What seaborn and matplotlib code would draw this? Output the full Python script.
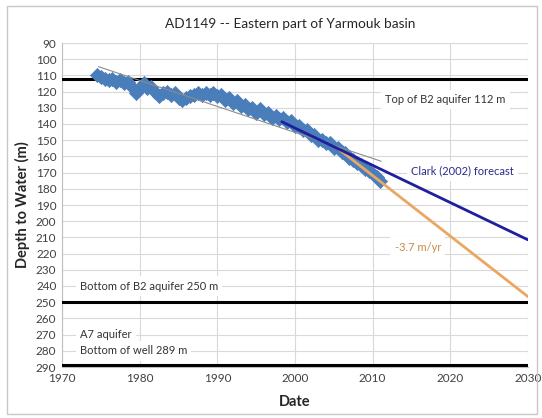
import matplotlib
matplotlib.use("Agg")
import matplotlib.pyplot as plt
import seaborn as sns
import pandas as pd
from matplotlib.patches import Rectangle

# ---- data ----
obs_years = [1974.5, 1975.0, 1975.5, 1976.0, 1976.5, 1977.0, 1977.5, 1978.0, 1978.5, 1979.0,
             1979.5, 1980.0, 1980.5, 1981.0, 1981.5, 1982.0, 1982.5, 1983.0, 1983.5, 1984.0,
             1984.5, 1985.0, 1985.5, 1986.0, 1986.5, 1987.0, 1987.5, 1988.0, 1988.5, 1989.0,
             1989.5, 1990.0, 1990.5, 1991.0, 1991.5, 1992.0, 1992.5, 1993.0, 1993.5, 1994.0,
             1994.5, 1995.0, 1995.5, 1996.0, 1996.5, 1997.0, 1997.5, 1998.0, 1998.5, 1999.0,
             1999.5, 2000.0, 2000.5, 2001.0, 2001.5, 2002.0, 2002.5, 2003.0, 2003.5, 2004.0,
             2004.5, 2005.0, 2005.5, 2006.0, 2006.5, 2007.0, 2007.5, 2008.0, 2008.5, 2009.0,
             2009.5, 2010.0, 2010.5, 2011.0]
obs_depth = [110, 111, 112, 113, 112, 114, 113, 115, 114, 117,
             121, 118, 115, 118, 117, 120, 123, 121, 120, 122,
             121, 124, 125, 124, 123, 122, 121, 122, 121, 122,
             121, 123, 122, 125, 124, 127, 126, 129, 128, 131,
             130, 133, 131, 134, 133, 136, 135, 137, 136, 139,
             138, 141, 141, 144, 144, 147, 147, 150, 150, 152,
             152, 155, 155, 157, 158, 161, 162, 164, 165, 168,
             169, 171, 173, 175]

trend_years = [1974.7, 2011.1]
trend_depth = [104.6, 163.0]

clark_years = [1998.3, 2030.0]
clark_depth = [138.6, 211.5]

rate_years = [2005.5, 2030.0]
rate_depth = [155.0, 246.6]

level_depths = [112, 250, 289]

x_ticks = [1970, 1980, 1990, 2000, 2010, 2020, 2030]
y_ticks = list(range(90, 300, 10))

title = "AD1149 -- Eastern part of Yarmouk basin"

# ---- style ----
sns.set_theme(style="white")
plt.rcParams['font.family'] = ['Lato', 'DejaVu Sans']

fig = plt.figure(figsize=(5.42, 4.18), dpi=100)
ax = fig.add_axes([62/542, 1-367/418, (528-62)/542, (367-43)/418])

ax.set_xlim(1970, 2030)
ax.set_ylim(290, 90)
ax.set_xticks(x_ticks)
ax.set_yticks(y_ticks)
ax.grid(True, color='#d9d9d9', linewidth=0.8)
ax.set_axisbelow(True)
for s in ['top', 'right']:
    ax.spines[s].set_visible(False)
for s in ['left', 'bottom']:
    ax.spines[s].set_color('#bfbfbf')
    ax.spines[s].set_linewidth(0.8)
ax.tick_params(axis='both', length=0, labelsize=8.5, labelcolor='#404040', pad=4)

# text labels (drawn under the data lines)
bbox = dict(facecolor='white', edgecolor='none', pad=3)
ax.text(2019.4, 125, "Top of B2 aquifer 112 m", fontsize=8, color='#333333',
        ha='center', va='center', bbox=bbox, zorder=2.5)
ax.text(2021.6, 169, "Clark (2002) forecast", fontsize=8, color='#2a2a8c',
        ha='center', va='center', bbox=bbox, zorder=2.5)
ax.text(2015.8, 216, "-3.7 m/yr", fontsize=8, color='#c98a45',
        ha='center', va='center', bbox=bbox, zorder=2.5)
ax.text(1972.3, 240, "Bottom of B2 aquifer 250 m", fontsize=8, color='#333333',
        ha='left', va='center', bbox=bbox, zorder=2.5)
ax.text(1972.3, 270, "A7 aquifer", fontsize=8, color='#333333',
        ha='left', va='center', bbox=bbox, zorder=2.5)
ax.text(1972.3, 280, "Bottom of well 289 m", fontsize=8, color='#333333',
        ha='left', va='center', bbox=bbox, zorder=2.5)

# horizontal aquifer levels
for d in level_depths:
    ax.axhline(d, color='black', linewidth=2.2, zorder=3)

# observations
obs = pd.DataFrame({'Date': obs_years, 'Depth': obs_depth})
sns.scatterplot(data=obs, x='Date', y='Depth', marker='D', s=52, color='#4a7ebb',
                edgecolor='#4a7ebb', linewidth=0.5, ax=ax, zorder=4)

# trend / forecast lines
sns.lineplot(x=trend_years, y=trend_depth, color='#8c8c8c', linewidth=0.8, ax=ax, zorder=5)
sns.lineplot(x=rate_years, y=rate_depth, color='#eba761', linewidth=2.0, ax=ax, zorder=5)
sns.lineplot(x=clark_years, y=clark_depth, color='#1f1f9e', linewidth=2.0, ax=ax, zorder=6)

ax.set_xlabel("Date", fontsize=10.5, fontweight='bold', color='#262626', labelpad=8)
ax.set_ylabel("Depth to Water (m)", fontsize=10.5, fontweight='bold', color='#262626', labelpad=4)
fig.text(0.535, 1-24/418, title, fontsize=9.8, color='#262626', ha='center', va='center')

# outer chart border
fig.patches.append(Rectangle((7/542, 1-414/418), (537-7)/542, (414-6)/418,
                             transform=fig.transFigure, fill=False,
                             edgecolor='#c8c8c8', linewidth=1.0))

fig.savefig("out.png", dpi=100)
